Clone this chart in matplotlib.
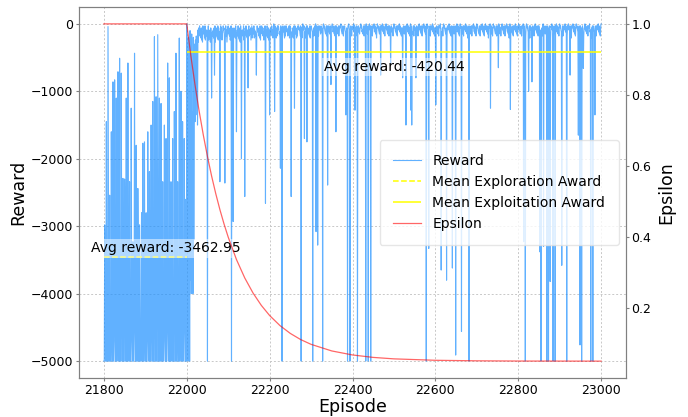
import numpy as np
import matplotlib
matplotlib.use("Agg")
import matplotlib.pyplot as plt

# ---------------- data ----------------
explore_start = 21800
exploit_start = 22000

explore_rewards = [
    -5000, -5000, -2980, -3400, -5000, -5000, -1450, -5000, -5000, -5000, -40, -2800,
    -5000, -5000, -2540, -5000, -5000, -5000, -1600, -4500, -5000, -5000, -860, -5000,
    -5000, -4700, -830, -3700, -5000, -5000, -1100, -5000, -5000, -4400, -710, -4300,
    -5000, -5000, -510, -5000, -5000, -5000, -730, -3400, -5000, -5000, -2290, -5000,
    -5000, -5000, -2300, -2800, -5000, -5000, -1100, -5000, -5000, -5000, -580, -4500,
    -5000, -5000, -2340, -5000, -5000, -4700, -1250, -3700, -5000, -5000, -3230, -5000,
    -5000, -4400, -435, -4300, -5000, -5000, -1800, -5000, -5000, -5000, -2440, -3400,
    -5000, -5000, -2980, -5000, -5000, -5000, -3430, -2800, -5000, -5000, -1770, -5000,
    -5000, -5000, -1750, -4500, -5000, -5000, -2800, -5000, -5000, -4700, -1600, -3700,
    -5000, -5000, -2190, -5000, -5000, -4400, -1500, -4300, -5000, -5000, -1150, -5000,
    -5000, -5000, -190, -3400, -5000, -5000, -1080, -5000, -5000, -5000, -160, -2800,
    -5000, -5000, -1100, -5000, -5000, -5000, -1180, -4500, -5000, -5000, -2340, -5000,
    -5000, -4700, -1500, -3700, -5000, -5000, -1700, -5000, -5000, -4400, -580, -4300,
    -5000, -5000, -800, -5000, -5000, -5000, -2340, -3400, -5000, -5000, -1700, -5000,
    -5000, -5000, -1300, -2800, -5000, -5000, -435, -5000, -5000, -5000, -2340, -4500,
    -5000, -5000, -210, -5000, -5000, -4700, -1000, -3700, -5000, -5000, -1450, -5000,
    -5000, -4400, -1700, -4300, -5000, -5000, -2600, -5000,
]

# near-zero band of the exploitation phase, one digit per episode (digit * 30 = loss)
exploit_band = (
    "0352418263517263941528461753926153728491352718463527184639251846372519426371825436172854132748163952"
    "1526384172341526371825361748291427356184325164738216352841732517364825142365718231526482712436157283"
    "1325416372024153726131254761822314257163124362517132145627312135274612132461527302315472612143526172"
    "1234152631204132516213251426310213452161231425163210243152612135241631120345216221341526311023451262"
    "2130415261120314253102143521611320415261203142516112043152720213452161130241526120314521611203142561"
    "0213425161132041526220314521711204315261021345216113204152612031425161120341527102134521611320415262"
    "2031425161120314526102134521711320415261203145216212043152610213425161132041527120314521611203415262"
    "0213452161132041526120314251721204315261021345216113204152622031452161120341527102134251611320415261"
    "2031452162120431526102134521711320415261203142516112034152620213452161132041527120314521611204315261"
    "0213425162132041526120314521711203415261021345216113204152622031425161120431527102134521611320415261"
    "0"
)

spike_episodes = [
    22001, 22002, 22003, 22004, 22005, 22006, 22007, 22008, 22009, 22010,
    22011, 22012, 22013, 22014, 22015, 22016, 22017, 22018, 22019, 22020,
    22022, 22024, 22026, 22050, 22060, 22067, 22080, 22092, 22108, 22112,
    22120, 22132, 22140, 22148, 22168, 22190, 22200, 22212, 22226, 22230,
    22252, 22260, 22276, 22284, 22290, 22304, 22312, 22316, 22328, 22340,
    22348, 22360, 22384, 22388, 22394, 22406, 22412, 22432, 22438, 22444,
    22468, 22492, 22521, 22529, 22541, 22543, 22553, 22578, 22584, 22601,
    22614, 22627, 22641, 22649, 22663, 22681, 22733, 22752, 22781, 22813,
    22817, 22825, 22833, 22852, 22855, 22861, 22869, 22873, 22877, 22884,
    22889, 22905, 22917, 22925, 22945, 22949, 22953, 22957, 22975, 22980,
    22985,
]
spike_rewards = [
    -4800, -300, -5000, -200, -4600, -1500, -5000, -100, -3800, -900,
    -4000, -150, -2600, -1300, -4000, -200, -3200, -1400, -300, -1450,
    -1350, -700, -1500, -5000, -1100, -760, -2340, -2360, -5000, -2930,
    -1600, -2000, -2560, -950, -760, -2660, -1350, -1300, -2140, -5000,
    -2560, -1250, -5000, -1700, -1750, -5000, -3080, -3280, -5000, -2390,
    -900, -1600, -1350, -5000, -5000, -1280, -5000, -5000, -5000, -5000,
    -760, -600, -800, -1500, -1280, -1500, -800, -5000, -3330, -1200,
    -3650, -3800, -3620, -4910, -4560, -5000, -1250, -650, -1270, -3230,
    -5000, -1000, -860, -3380, -5000, -3300, -5000, -5000, -3820, -5000,
    -5000, -3580, -5000, -760, -1650, -4760, -5000, -660, -5000, -5000,
    -1350,
]

mean_explore = -3462.95
mean_exploit = -420.44

eps_episodes = [21800, 22000, 22010, 22020, 22030, 22040, 22050, 22060, 22070,
                22080, 22090, 22100, 22120, 22140, 22160, 22180, 22200, 22225,
                22250, 22275, 22300, 22350, 22400, 22450, 22500, 22600, 22700,
                22800, 23000]
eps_values = [1.0, 1.0, 0.9096, 0.8278, 0.7538, 0.6868, 0.6262, 0.5714, 0.5218,
              0.4768, 0.4363, 0.3995, 0.3361, 0.2843, 0.2418, 0.2070, 0.1785,
              0.1501, 0.1280, 0.1107, 0.0973, 0.0787, 0.0674, 0.0605, 0.0564,
              0.0524, 0.0509, 0.0503, 0.0500]

# ---------------- assemble ----------------
exploit_rewards = np.array([-30.0 * int(c) for c in exploit_band])
exploit_eps = exploit_start + np.arange(len(exploit_rewards))
for e, v in zip(spike_episodes, spike_rewards):
    exploit_rewards[e - exploit_start] = v
explore_eps = explore_start + np.arange(len(explore_rewards))

episodes = np.concatenate([explore_eps, exploit_eps])
rewards = np.concatenate([np.array(explore_rewards, float), exploit_rewards])

# ---------------- plot ----------------
fig = plt.figure(figsize=(6.88, 4.17), dpi=100)
ax = fig.add_axes([79 / 688, 39 / 417, (626 - 79) / 688, (378 - 7) / 417])

ax.grid(True, linestyle=(0, (2, 2)), color="#c8c8c8", linewidth=0.7)
ax.set_axisbelow(True)

l1, = ax.plot(episodes, rewards, color="dodgerblue", alpha=0.7, lw=0.8, label="Reward")
l2 = ax.hlines(mean_explore, explore_eps[0], exploit_start, colors="yellow",
               linestyles="--", lw=1.1, label="Mean Exploration Award")
l3 = ax.hlines(mean_exploit, exploit_start, exploit_eps[-1], colors="yellow",
               linestyles="-", lw=1.1, label="Mean Exploitation Award")

ax.text(21770, mean_explore + 30, f"Avg reward: {mean_explore:.2f}", fontsize=10,
        ha="left", va="bottom",
        bbox=dict(facecolor="white", alpha=0.5, edgecolor="none", pad=1.5))
ax.text(22331, mean_exploit - 110, f"Avg reward: {mean_exploit:.2f}", fontsize=10,
        ha="left", va="top",
        bbox=dict(facecolor="white", alpha=0.5, edgecolor="none", pad=1.5))

ax2 = ax.twinx()
l4, = ax2.plot(eps_episodes, eps_values, color="red", alpha=0.6, lw=0.9, label="Epsilon")

ax.set_xlabel("Episode", fontsize=12.5, labelpad=1)
ax.set_ylabel("Reward", fontsize=12.5, labelpad=3)
ax2.set_ylabel("Epsilon", fontsize=12.5, labelpad=4)

for a in (ax, ax2):
    a.tick_params(labelsize=9, color="#808080", length=2.5, pad=1.5)
    for s in a.spines.values():
        s.set_color("#808080")

handles = [l1, l2, l3, l4]
ax2.legend(handles, [h.get_label() for h in handles], loc="center right",
           fontsize=10, framealpha=0.8, edgecolor="#e0e0e0", borderpad=1.0)

fig.savefig("out.png", dpi=100)
